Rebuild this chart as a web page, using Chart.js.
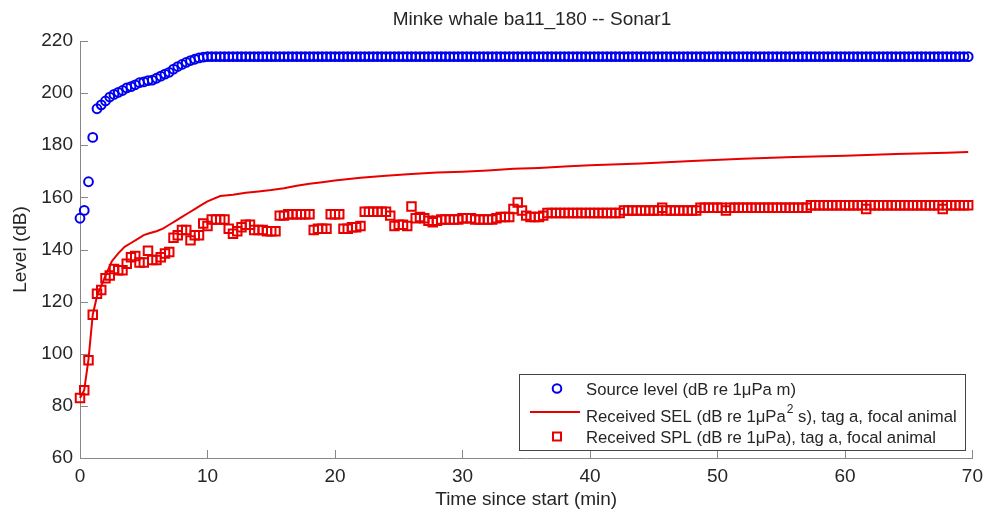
<!DOCTYPE html>
<html>
<head>
<meta charset="utf-8">
<script src="https://cdn.jsdelivr.net/npm/chart.js@4"></script>
<style>
  body { margin: 0; background: #fff; }
  #wrap { width: 990px; height: 518px; }
</style>
</head>
<body>
<div id="wrap"><canvas id="levelChart"></canvas></div>
<script>
// ping times, seconds since start (one ping every 20 s)
const pingSeconds = [
  0,20,40,60,80,100,120,140,160,180,200,220,240,260,280,
  300,320,340,360,380,400,420,440,460,480,500,520,540,560,580,
  600,620,640,660,680,700,720,740,760,780,800,820,840,860,880,
  900,920,940,960,980,1000,1020,1040,1060,1080,1100,1120,1140,1160,1180,
  1200,1220,1240,1260,1280,1300,1320,1340,1360,1380,1400,1420,1440,1460,1480,
  1500,1520,1540,1560,1580,1600,1620,1640,1660,1680,1700,1720,1740,1760,1780,
  1800,1820,1840,1860,1880,1900,1920,1940,1960,1980,2000,2020,2040,2060,2080,
  2100,2120,2140,2160,2180,2200,2220,2240,2260,2280,2300,2320,2340,2360,2380,
  2400,2420,2440,2460,2480,2500,2520,2540,2560,2580,2600,2620,2640,2660,2680,
  2700,2720,2740,2760,2780,2800,2820,2840,2860,2880,2900,2920,2940,2960,2980,
  3000,3020,3040,3060,3080,3100,3120,3140,3160,3180,3200,3220,3240,3260,3280,
  3300,3320,3340,3360,3380,3400,3420,3440,3460,3480,3500,3520,3540,3560,3580,
  3600,3620,3640,3660,3680,3700,3720,3740,3760,3780,3800,3820,3840,3860,3880,
  3900,3920,3940,3960,3980,4000,4020,4040,4060,4080,4100,4120,4140,4160,4180
];

// source level, dB re 1uPa m
const sourceLevel = [
  152,155,166,183,194,195.5,197,198.5,199.5,200.3,201,202,202.5,203.2,204,
  204.3,204.8,205,205.7,206.5,207.3,208,209.2,210.2,211,211.8,212.5,213,213.5,213.8,
  214,214,214,214,214,214,214,214,214,214,214,214,214,214,214,
  214,214,214,214,214,214,214,214,214,214,214,214,214,214,214,
  214,214,214,214,214,214,214,214,214,214,214,214,214,214,214,
  214,214,214,214,214,214,214,214,214,214,214,214,214,214,214,
  214,214,214,214,214,214,214,214,214,214,214,214,214,214,214,
  214,214,214,214,214,214,214,214,214,214,214,214,214,214,214,
  214,214,214,214,214,214,214,214,214,214,214,214,214,214,214,
  214,214,214,214,214,214,214,214,214,214,214,214,214,214,214,
  214,214,214,214,214,214,214,214,214,214,214,214,214,214,214,
  214,214,214,214,214,214,214,214,214,214,214,214,214,214,214,
  214,214,214,214,214,214,214,214,214,214,214,214,214,214,214,
  214,214,214,214,214,214,214,214,214,214,214,214,214,214,214
];

// received SPL, dB re 1uPa, tag a
const receivedSPL = [
  83,86,97.5,115,123,124.5,129,130,132.5,132,132,134.5,137,137.5,135,
  135,139.5,136,136,137,138.5,139,144.5,145.5,147.5,147.5,143.5,145.5,145.5,150,
  149,151.5,151.5,151.5,151.5,148,146,147,148.5,149.5,149.5,147.5,147.5,147.5,147,
  147,147,153,153,153.5,153.5,153.5,153.5,153.5,153.5,147.5,148,148,148,153.5,
  153.5,153.5,148,148,148.5,148.5,149,154.5,154.5,154.5,154.5,154.5,154.5,153,149,
  149.5,149.5,149,156.5,152,152.5,152,151,150.5,151,151.5,151.5,151.5,151.5,151.5,
  152,152,152,151.5,151.5,151.5,151.5,151.5,152,152.5,152.5,152.5,155.5,158,155,
  153,152.5,152.5,152.5,153,154,154,154,154,154,154,154,154,154,154,
  154,154,154,154,154,154,154,154,155,155,155,155,155,155,155,
  155,155,156,155,155,155,155,155,155,155,155,156,156,156,156,
  156,156,155,156,156,156,156,156,156,156,156,156,156,156,156,
  156,156,156,156,156,156,156,157,157,157,157,157,157,157,157,
  157,157,157,157,157,155.5,157,157,157,157,157,157,157,157,157,
  157,157,157,157,157,157,157,157,155.5,157,157,157,157,157,157
];

// cumulative received SEL, dB re 1uPa^2 s
const selMinutes = [0,0.33,0.67,1,1.33,1.67,2,2.5,3,3.5,4,4.5,5,5.5,6,6.5,7,7.5,8,8.5,9,9.5,10,
  11,12,13,14,15,16,17,18,19,20,22,24,26,28,30,32,34,36,38,40,44,48,52,56,60,64,68,69.67];
const selLevel = [83,86,98,115,122,126,130,135.5,138.5,141,142.5,144,145.5,146.3,147,148,149.5,151,152.5,154,155.5,157,158.5,
  160.5,161,161.8,162.3,162.8,163.5,164.5,165.2,165.8,166.5,167.5,168.3,169,169.5,169.8,170.3,171,171.3,171.8,172.3,
  173,174,174.8,175.5,176,176.6,177.1,177.4];

const blue = '#0000f0';
const red = '#e80000';
const axisGrey = '#888888';
const textColor = '#262626';
const fontFamily = '"Liberation Sans", Arial, sans-serif';

const pingMinutes = pingSeconds.map(s => s / 60);
const toPoints = (xs, ys) => xs.map((x, i) => ({ x: x, y: ys[i] }));

// MATLAB style ticks pointing into the plot
const inwardTicks = {
  id: 'inwardTicks',
  afterDraw(chart) {
    const { ctx, chartArea, scales } = chart;
    ctx.save();
    ctx.strokeStyle = axisGrey;
    ctx.lineWidth = 1;
    ctx.beginPath();
    for (const t of scales.x.ticks) {
      const px = Math.round(scales.x.getPixelForValue(t.value)) + 0.5;
      ctx.moveTo(px, chartArea.bottom);
      ctx.lineTo(px, chartArea.bottom - 8);
    }
    for (const t of scales.y.ticks) {
      const py = Math.round(scales.y.getPixelForValue(t.value)) + 0.5;
      ctx.moveTo(chartArea.left, py);
      ctx.lineTo(chartArea.left + 8, py);
    }
    ctx.stroke();
    ctx.restore();
  }
};

const titleAndLegend = {
  id: 'titleAndLegend',
  afterDraw(chart) {
    const { ctx } = chart;
    ctx.save();
    ctx.fillStyle = textColor;
    ctx.font = '19px ' + fontFamily;
    ctx.textAlign = 'center';
    ctx.textBaseline = 'alphabetic';
    ctx.fillText('Minke whale ba11_180 -- Sonar1', 532, 25);

    // legend box
    ctx.fillStyle = '#fff';
    ctx.fillRect(519.5, 374.5, 446, 76);
    ctx.strokeStyle = '#444';
    ctx.lineWidth = 1;
    ctx.strokeRect(519.5, 374.5, 446, 76);

    ctx.textAlign = 'left';
    ctx.fillStyle = textColor;
    ctx.font = '16.7px ' + fontFamily;
    const tx = 586;
    ctx.fillText('Source level (dB re 1\u03bcPa m)', tx, 395);
    const part1 = 'Received SEL (dB re 1\u03bcPa';
    ctx.fillText(part1, tx, 421.5);
    const w1 = ctx.measureText(part1).width;
    ctx.font = '12px ' + fontFamily;
    ctx.fillText('2', tx + w1 + 1, 413);
    const w2 = ctx.measureText('2').width;
    ctx.font = '16.7px ' + fontFamily;
    ctx.fillText(' s), tag a, focal animal', tx + w1 + w2 + 1, 421.5);
    ctx.fillText('Received SPL (dB re 1\u03bcPa), tag a, focal animal', tx, 443);

    // legend markers
    ctx.lineWidth = 2;
    ctx.strokeStyle = blue;
    ctx.beginPath();
    ctx.arc(557, 388.5, 4.3, 0, Math.PI * 2);
    ctx.stroke();
    ctx.strokeStyle = red;
    ctx.beginPath();
    ctx.moveTo(530, 412);
    ctx.lineTo(580, 412);
    ctx.stroke();
    ctx.strokeRect(553, 432.5, 8, 8);
    ctx.restore();
  }
};

const ctx = document.getElementById('levelChart').getContext('2d');
new Chart(ctx, {
  type: 'scatter',
  data: {
    datasets: [{
      label: 'Source level (dB re 1\u03bcPa m)',
      data: toPoints(pingMinutes, sourceLevel),
      pointStyle: 'circle',
      pointRadius: 4.4,
      pointBorderWidth: 2,
      borderColor: blue,
      backgroundColor: 'rgba(0,0,0,0)',
      clip: false,
      order: 2
    }, {
      label: 'Received SEL (dB re 1\u03bcPa\u00b2 s), tag a, focal animal',
      data: toPoints(selMinutes, selLevel),
      showLine: true,
      pointRadius: 0,
      borderWidth: 2,
      borderColor: red,
      backgroundColor: red,
      tension: 0,
      clip: false,
      order: 1
    }, {
      label: 'Received SPL (dB re 1\u03bcPa), tag a, focal animal',
      data: toPoints(pingMinutes, receivedSPL),
      pointStyle: 'rect',
      pointRadius: 6,
      pointBorderWidth: 2,
      borderColor: red,
      backgroundColor: 'rgba(0,0,0,0)',
      clip: false,
      order: 0
    }]
  },
  options: {
    responsive: true,
    maintainAspectRatio: false,
    animation: false,
    layout: { padding: { top: 41, right: 17, left: 0, bottom: 0 } },
    plugins: {
      legend: { display: false },
      title: { display: false },
      tooltip: { enabled: false }
    },
    scales: {
      x: {
        type: 'linear',
        min: 0,
        max: 70,
        ticks: { stepSize: 10, padding: 7, color: textColor, font: { family: fontFamily, size: 19 } },
        grid: { drawOnChartArea: false, drawTicks: false },
        border: { color: axisGrey, width: 1 },
        title: {
          display: true,
          text: 'Time since start (min)',
          color: textColor,
          font: { family: fontFamily, size: 19 },
          padding: { top: 0, bottom: 7 }
        },
        afterFit(scale) { scale.height = 60; }
      },
      y: {
        min: 60,
        max: 220,
        ticks: { stepSize: 20, padding: 7, color: textColor, font: { family: fontFamily, size: 19 } },
        grid: { drawOnChartArea: false, drawTicks: false },
        border: { color: axisGrey, width: 1 },
        title: {
          display: true,
          text: 'Level (dB)',
          color: textColor,
          font: { family: fontFamily, size: 19 },
          padding: { top: 9.6, bottom: 0 }
        },
        afterFit(scale) { scale.width = 80; }
      }
    }
  },
  plugins: [inwardTicks, titleAndLegend]
});
</script>
</body>
</html>
